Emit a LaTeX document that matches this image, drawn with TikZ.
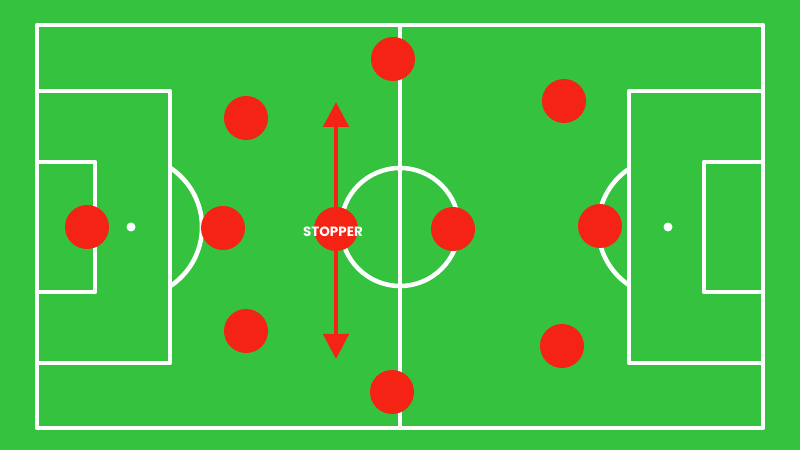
\documentclass[tikz,border=0pt]{standalone}
\usepackage{fontspec}
\setsansfont{Poppins}
\usetikzlibrary{arrows.meta}
\definecolor{pitch}{HTML}{34C23F}
\definecolor{player}{HTML}{F42314}
\tikzset{
  pline/.style={draw=white, line width=4.5bp, line join=round},
  plyr/.style={circle, fill=player, minimum size=44bp, inner sep=0pt},
  spot/.style={circle, fill=white, minimum size=9bp, inner sep=0pt},
  runarrow/.style={draw=player, line width=4.5bp, {Triangle[width=25bp,length=25bp]}-{Triangle[width=25bp,length=25bp]}, shorten <=-2bp, shorten >=-2bp},
  lbl/.style={text=white, font=\sffamily\bfseries\fontsize{13.5}{15}\selectfont, inner sep=0pt}
}
\begin{document}
\begin{tikzpicture}[x=1bp, y=-1bp]
\fill[pitch] (0,0) rectangle (800,450);
\useasboundingbox (0,0) rectangle (800,450);
% outer lines
\draw[pline] (37,25) rectangle (763,428);
\draw[pline] (400,25) -- (400,428);
\draw[pline] (400,227) circle (59);
% left penalty area
\draw[pline] (37,91) -- (170,91) -- (170,363) -- (37,363);
\draw[pline] (37,162) -- (95,162) -- (95,292) -- (37,292);
\begin{scope}
  \clip (172,100) rectangle (260,360);
  \draw[pline] (131,227) circle (71);
\end{scope}
% right penalty area
\draw[pline] (763,91) -- (629,91) -- (629,363) -- (763,363);
\draw[pline] (763,162) -- (704,162) -- (704,292) -- (763,292);
\begin{scope}
  \clip (540,100) rectangle (627,360);
  \draw[pline] (668,227) circle (70);
\end{scope}
\node[spot] (lspot) at (131,227) {};
\node[spot] (rspot) at (668,227) {};
% arrow
\coordinate (atop) at (336,104);
\coordinate (abot) at (336,357);
\draw[runarrow] (abot) -- (atop);
% players
\node[plyr] (gk) at (87,227) {};
\node[plyr] (lb1) at (246,118) {};
\node[plyr] (lb2) at (223,228) {};
\node[plyr] (lb3) at (246,331) {};
\node[plyr] (stopper) at (336,229) {};
\node[plyr] (mtop) at (393,59) {};
\node[plyr] (mbot) at (392,392) {};
\node[plyr] (mc) at (453,229) {};
\node[plyr] (rt) at (564,101) {};
\node[plyr] (rc) at (600,226) {};
\node[plyr] (rb) at (562,346) {};
\node[lbl] (stoplabel) at (333,232) {STOPPER};
\end{tikzpicture}
\end{document}
